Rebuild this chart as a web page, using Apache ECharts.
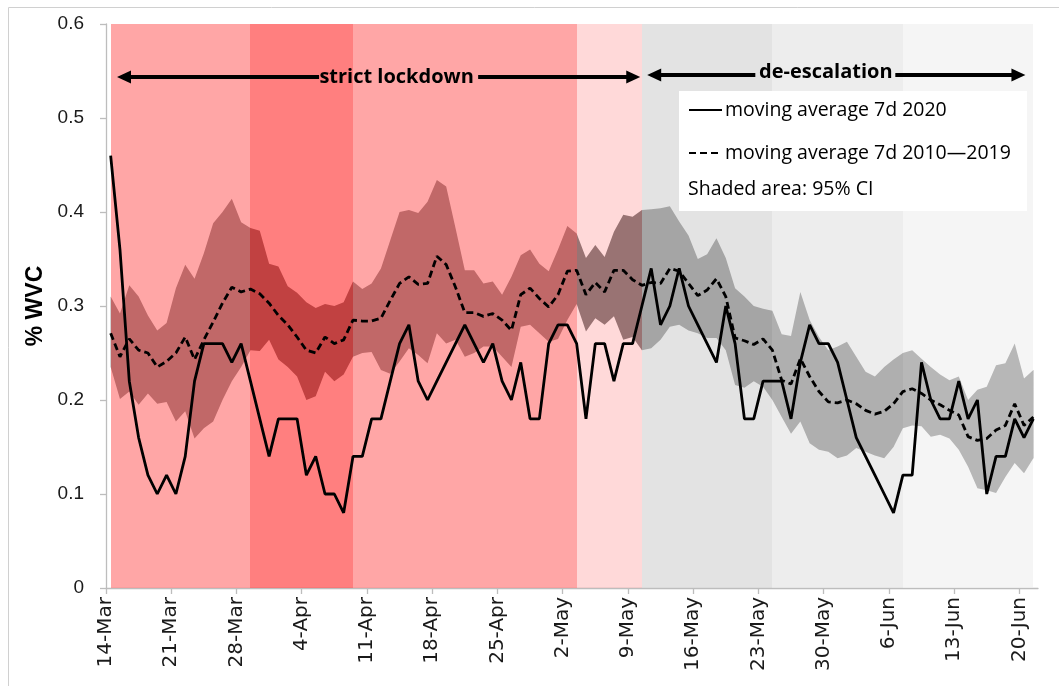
<!DOCTYPE html>
<html><head><meta charset="utf-8">
<script src="https://cdn.jsdelivr.net/npm/echarts@6/dist/echarts.min.js"></script>
<style>html,body{margin:0;padding:0;background:#fff}#c{width:1059px;height:686px}</style>
</head><body><div id="c"></div>
<script>
// ---------- data ----------
const solid2020 = [0.46,0.36,0.22,0.16,0.12,0.10,0.12,0.10,0.14,0.22,
  0.26,0.26,0.26,0.24,0.26,0.22,0.18,0.14,0.18,0.18,
  0.18,0.12,0.14,0.10,0.10,0.08,0.14,0.14,0.18,0.18,
  0.22,0.26,0.28,0.22,0.20,0.22,0.24,0.26,0.28,0.26,
  0.24,0.26,0.22,0.20,0.24,0.18,0.18,0.26,0.28,0.28,
  0.26,0.18,0.26,0.26,0.22,0.26,0.26,0.30,0.34,0.28,
  0.30,0.34,0.30,0.28,0.26,0.24,0.30,0.26,0.18,0.18,
  0.22,0.22,0.22,0.18,0.24,0.28,0.26,0.26,0.24,0.20,
  0.16,0.14,0.12,0.10,0.08,0.12,0.12,0.24,0.20,0.18,
  0.18,0.22,0.18,0.20,0.10,0.14,0.14,0.18,0.16,0.18];
const avg2010_2019 = [0.271,0.246,0.265,0.253,0.250,0.235,0.241,0.250,0.267,0.243,
  0.264,0.283,0.303,0.320,0.315,0.318,0.313,0.303,0.290,0.280,
  0.267,0.253,0.250,0.267,0.260,0.264,0.285,0.284,0.284,0.287,
  0.306,0.324,0.331,0.323,0.324,0.353,0.344,0.320,0.293,0.293,
  0.289,0.292,0.285,0.274,0.312,0.319,0.308,0.299,0.312,0.337,
  0.338,0.312,0.325,0.315,0.338,0.338,0.328,0.322,0.325,0.324,
  0.340,0.337,0.324,0.311,0.317,0.329,0.310,0.266,0.263,0.259,
  0.265,0.253,0.221,0.217,0.244,0.225,0.209,0.198,0.197,0.200,
  0.196,0.189,0.185,0.188,0.196,0.209,0.212,0.207,0.200,0.195,
  0.189,0.184,0.161,0.157,0.159,0.168,0.173,0.196,0.173,0.182];
const ciUpper = [0.310,0.292,0.322,0.310,0.290,0.274,0.282,0.319,0.344,0.329,
  0.356,0.388,0.400,0.414,0.389,0.383,0.380,0.345,0.342,0.321,
  0.314,0.304,0.298,0.302,0.300,0.304,0.326,0.318,0.324,0.340,
  0.370,0.400,0.402,0.399,0.411,0.434,0.427,0.383,0.338,0.338,
  0.324,0.326,0.312,0.331,0.354,0.360,0.345,0.337,0.360,0.385,
  0.377,0.351,0.365,0.352,0.379,0.397,0.395,0.402,0.403,0.404,
  0.406,0.390,0.375,0.350,0.355,0.372,0.351,0.319,0.310,0.300,
  0.297,0.295,0.270,0.268,0.315,0.285,0.267,0.253,0.257,0.262,
  0.246,0.230,0.225,0.235,0.243,0.250,0.253,0.244,0.235,0.227,
  0.221,0.225,0.200,0.211,0.214,0.237,0.239,0.260,0.223,0.232];
const ciLower = [0.235,0.201,0.209,0.195,0.207,0.196,0.198,0.177,0.188,0.159,
  0.170,0.177,0.200,0.220,0.235,0.253,0.252,0.264,0.243,0.235,
  0.225,0.200,0.204,0.230,0.220,0.227,0.246,0.250,0.251,0.232,
  0.228,0.241,0.255,0.248,0.239,0.271,0.260,0.264,0.246,0.250,
  0.257,0.257,0.246,0.235,0.278,0.280,0.271,0.262,0.265,0.285,
  0.302,0.273,0.287,0.280,0.289,0.264,0.267,0.253,0.255,0.264,
  0.278,0.280,0.274,0.271,0.266,0.266,0.253,0.216,0.213,0.220,
  0.214,0.200,0.182,0.164,0.177,0.154,0.147,0.145,0.138,0.141,
  0.149,0.145,0.141,0.138,0.150,0.170,0.173,0.172,0.161,0.163,
  0.159,0.147,0.129,0.106,0.104,0.101,0.118,0.133,0.122,0.138];
const tickLabels = ['14-Mar','21-Mar','28-Mar','4-Apr','11-Apr','18-Apr','25-Apr','2-May',
  '9-May','16-May','23-May','30-May','6-Jun','13-Jun','20-Jun'];
const yTickLabels = ['0','0.1','0.2','0.3','0.4','0.5','0.6'];
const phaseStart = ['14-Mar','29-Mar','9-Apr','3-May','10-May','24-May','7-Jun'];
const phaseEnd   = ['29-Mar','9-Apr','3-May','10-May','24-May','7-Jun','21-Jun'];
const seriesNames = ['moving average 7d 2020','moving average 7d 2010\u20142019'];
const ciNote = 'Shaded area: 95% CI';
const annotations = ['strict lockdown','de-escalation'];

// ---------- styles ----------
const phaseFill = ['rgba(255,81,81,0.51)','rgba(255,4,4,0.51)','rgba(255,81,81,0.51)',
  'rgba(255,65,65,0.2)','rgba(200,200,200,0.51)','rgba(220,220,220,0.51)','rgba(236,236,236,0.51)'];
const bandColor = '#808080';

// ---------- helpers ----------
const MONTHS = ['Jan','Feb','Mar','Apr','May','Jun','Jul','Aug','Sep','Oct','Nov','Dec'];
const dates = solid2020.map((_, i) => { const d = new Date(2020, 2, 14 + i); return d.getDate() + '-' + MONTHS[d.getMonth()]; });
const dayOf = lbl => dates.indexOf(lbl);           // day offset (start of that day)
const ptX = lbl => dayOf(lbl) + 0.5;                // data points sit mid-day
const toPts = arr => arr.map((v, i) => [i + 0.5, v]);
const tickVals = tickLabels.map(dayOf);

const chart = echarts.init(document.getElementById('c'), null, {renderer: 'canvas'});
const axisGray = '#BDBDBD';
const lblFont = '"Open Sans", "Noto Sans", sans-serif';

const option = {
  animation: false,
  grid: {left: 106, right: 21, top: 24, bottom: 98, containLabel: false},
  xAxis: {
    type: 'value', min: 0, max: 100, interval: 7,
    axisLine: {show: true, lineStyle: {color: axisGray, width: 1.3}},
    axisTick: {show: true, length: 6, customValues: tickVals, lineStyle: {color: axisGray, width: 1.3}},
    axisLabel: {customValues: tickVals, rotate: 90, margin: 9, fontSize: 20, fontFamily: 'DejaVu Sans', color: '#1a1a1a',
      formatter: v => { const k = tickVals.indexOf(Math.round(v)); return k >= 0 ? tickLabels[k] : ''; }},
    splitLine: {show: false}
  },
  yAxis: {
    type: 'value', min: 0, max: 0.6, interval: 0.1,
    name: '% WVC', nameLocation: 'middle', nameGap: 52,
    nameTextStyle: {fontSize: 23, fontWeight: 'bold', fontFamily: 'Liberation Sans', color: '#000'},
    axisLine: {show: true, lineStyle: {color: axisGray, width: 1.3}},
    axisTick: {show: true, length: 6, lineStyle: {color: axisGray, width: 1.3}},
    axisLabel: {margin: 22, fontSize: 19, fontFamily: '"Liberation Sans Narrow", "Liberation Sans", sans-serif', color: '#1a1a1a',
      formatter: v => yTickLabels[Math.round(v * 10)]},
    splitLine: {show: false}
  },
  legend: {
    z: 100, orient: 'vertical', left: 683, top: 95, itemWidth: 33, itemHeight: 14, itemGap: 23,
    data: seriesNames, selectedMode: false,
    itemStyle: {opacity: 0},
    textStyle: {fontFamily: lblFont, fontSize: 19.5, color: '#000', padding: [0, 0, 0, -2]}
  },
  graphic: [
    {type: 'rect', silent: true, z: 0, shape: {x: 8.5, y: 7.5, width: 1200, height: 1000}, style: {fill: 'none', stroke: '#D0D0D0', lineWidth: 1}},
    {type: 'rect', silent: true, z: 50, shape: {x: 679, y: 91, width: 348, height: 120}, style: {fill: '#ffffff'}},
    {type: 'text', silent: true, z: 51, x: 688, y: 189, style: {text: ciNote, fontFamily: lblFont, fontSize: 19.5, fill: '#000', verticalAlign: 'middle'}}
  ],
  series: [
    {name: 'ci95', type: 'custom', z: 1, silent: true,
      data: ciUpper.map((v, i) => [i + 0.5, ciLower[i], v]),
      encode: {x: 0, y: [1, 2]},
      renderItem: (params, api) => {
        if (params.dataIndex !== 0) return null;
        const pts = [];
        for (let i = 0; i < ciUpper.length; i++) pts.push(api.coord([i + 0.5, ciUpper[i]]));
        for (let i = ciLower.length - 1; i >= 0; i--) pts.push(api.coord([i + 0.5, ciLower[i]]));
        return {type: 'polygon', shape: {points: pts}, style: {fill: bandColor}};
      }},
    {name: 'phases', type: 'custom', z: 2, silent: true,
      data: phaseStart.map((s, k) => [ptX(s), ptX(phaseEnd[k])]),
      encode: {x: [0, 1]},
      renderItem: (params, api) => {
        const cs = params.coordSys;
        const x0 = Math.round(api.coord([api.value(0), 0])[0]);
        const x1 = Math.round(api.coord([api.value(1), 0])[0]);
        return {type: 'rect', shape: {x: x0, y: cs.y, width: x1 - x0, height: cs.height},
          style: {fill: phaseFill[params.dataIndex]}};
      }},
    {name: seriesNames[1], type: 'line', z: 3, symbol: 'none', data: toPts(avg2010_2019),
      itemStyle: {color: '#000'}, lineStyle: {color: '#000', width: 2.8, type: [7, 4]}},
    {name: seriesNames[0], type: 'line', z: 4, symbol: 'none', data: toPts(solid2020),
      itemStyle: {color: '#000'}, lineStyle: {color: '#000', width: 2.8},
      markLine: {
        silent: true, animation: false, symbol: ['none', 'none'],
        lineStyle: {color: '#000', width: 4, type: 'solid'}, label: {show: false}, emphasis: {disabled: true},
        data: [
          [{coord: [1.93, 0.5436], symbol: 'triangle', symbolSize: [13, 14]}, {coord: [22.86, 0.5436]}],
          [{coord: [39.93, 0.5436]}, {coord: [56.57, 0.5436], symbol: 'triangle', symbolSize: [13, 14]}],
          [{coord: [58.82, 0.5457], symbol: 'triangle', symbolSize: [13, 14]}, {coord: [69.67, 0.5457]}],
          [{coord: [84.69, 0.5457]}, {coord: [97.9, 0.5457], symbol: 'triangle', symbolSize: [13, 14]}]
        ]
      },
      markPoint: {
        silent: true, animation: false, symbol: 'rect', symbolSize: 1, itemStyle: {color: 'rgba(0,0,0,0)'},
        label: {show: true, position: 'inside', formatter: '{b}', color: '#000', fontFamily: lblFont, fontWeight: 'bold', fontSize: 20},
        data: [{name: annotations[0], coord: [31.18, 0.5436]}, {name: annotations[1], coord: [77.23, 0.549]}]
      }}
  ]
};
chart.setOption(option);
</script></body></html>
